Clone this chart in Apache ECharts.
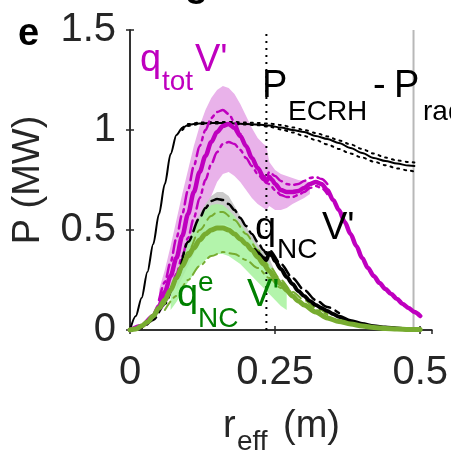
<!DOCTYPE html>
<html>
<head>
<meta charset="utf-8">
<script src="https://cdn.jsdelivr.net/npm/echarts@6/dist/echarts.min.js"></script>
<style>
html,body{margin:0;padding:0;background:#fff;}
#chart{width:451px;height:454px;}
</style>
</head>
<body>
<div id="chart"></div>
<script>
// ---------------- data ----------------
const xTicks = [0, 0.25, 0.5];
const yTicks = [0, 0.5, 1, 1.5];

// P_ECRH - P_rad (thin black) and its dotted bounds
const ecrhR = [0,0.01,0.02,0.03,0.04,0.05,0.06,0.07,0.08,0.09,0.10,0.11,0.12,0.14,0.16,0.18,0.20,0.22,0.24,0.26,0.28,0.30,0.32,0.34,0.36,0.38,0.40,0.42,0.44,0.46,0.48,0.49];
const ecrhP = [0,0.07,0.16,0.29,0.43,0.58,0.73,0.88,0.975,1.01,1.025,1.03,1.033,1.035,1.035,1.033,1.03,1.028,1.022,1.012,1.0,0.99,0.97,0.955,0.935,0.91,0.885,0.86,0.845,0.832,0.822,0.82];
const ecrhBR = [0.09,0.10,0.12,0.14,0.16,0.18,0.20,0.22,0.24,0.26,0.28,0.30,0.32,0.34,0.36,0.38,0.40,0.42,0.44,0.46,0.48,0.49];
const ecrhHiP = [1.01,1.03,1.037,1.04,1.04,1.04,1.037,1.035,1.032,1.025,1.013,1.0,0.985,0.968,0.948,0.928,0.905,0.882,0.862,0.848,0.84,0.838];
const ecrhLoP = [1.0,1.02,1.03,1.032,1.032,1.03,1.027,1.024,1.016,1.003,0.988,0.97,0.95,0.928,0.905,0.882,0.862,0.842,0.824,0.808,0.797,0.793];

// q_tot V' (magenta)
const totR = [0,0.02,0.04,0.05,0.06,0.07,0.08,0.09,0.10,0.11,0.12,0.13,0.14,0.15,0.16,0.17,0.18,0.19,0.20,0.21,0.22,0.23,0.235,0.24,0.245,0.25,0.26,0.27,0.28,0.29,0.30,0.31,0.32,0.33,0.34,0.35,0.36,0.37,0.38,0.39,0.40,0.41,0.42,0.43,0.44,0.45,0.46,0.47,0.48,0.49,0.50];
const totP = [0,0.02,0.07,0.12,0.19,0.27,0.36,0.47,0.58,0.69,0.79,0.87,0.94,0.99,1.02,1.03,1.01,0.97,0.92,0.86,0.81,0.765,0.745,0.765,0.75,0.73,0.70,0.69,0.69,0.695,0.71,0.73,0.74,0.73,0.70,0.65,0.60,0.54,0.48,0.42,0.36,0.31,0.27,0.235,0.205,0.18,0.155,0.13,0.11,0.09,0.07];
const totHiR = [0.05,0.06,0.07,0.08,0.09,0.10,0.11,0.12,0.13,0.14,0.15,0.16,0.17,0.18,0.19,0.20,0.21,0.22,0.23,0.235,0.24,0.25,0.26,0.27,0.28,0.29,0.30,0.31,0.32,0.33,0.34];
const totHiP = [0.15,0.24,0.34,0.46,0.58,0.70,0.82,0.92,1.0,1.06,1.09,1.10,1.08,1.04,0.98,0.92,0.86,0.81,0.77,0.76,0.79,0.77,0.745,0.73,0.725,0.73,0.745,0.76,0.765,0.755,0.73];
const totLoR = [0.06,0.07,0.08,0.09,0.10,0.11,0.12,0.13,0.14,0.15,0.16,0.17,0.18,0.19,0.20,0.21,0.22,0.23,0.235,0.24,0.25,0.26,0.27,0.28,0.29,0.30,0.31,0.32,0.33,0.34];
const totLoP = [0.14,0.20,0.28,0.37,0.46,0.56,0.66,0.75,0.83,0.89,0.93,0.94,0.93,0.90,0.86,0.82,0.78,0.75,0.735,0.73,0.70,0.675,0.665,0.665,0.675,0.69,0.71,0.72,0.71,0.68];
const totBandR  = [0.05,0.06,0.07,0.08,0.09,0.10,0.11,0.12,0.13,0.14,0.15,0.16,0.17,0.18,0.19,0.20,0.21,0.22,0.23,0.235,0.24,0.25,0.26,0.27,0.28,0.29,0.30,0.31];
const totBandLo = [0.08,0.12,0.17,0.23,0.30,0.37,0.44,0.51,0.58,0.67,0.74,0.78,0.79,0.77,0.74,0.70,0.66,0.63,0.61,0.60,0.62,0.60,0.60,0.61,0.63,0.645,0.66,0.68];
const totBandHi = [0.20,0.30,0.42,0.55,0.68,0.80,0.92,1.02,1.10,1.16,1.20,1.22,1.21,1.18,1.13,1.07,1.01,0.96,0.93,0.92,0.84,0.80,0.78,0.77,0.76,0.75,0.745,0.74];

// q_NC V' (black) with grey band
const ncBandR  = [0.08,0.09,0.10,0.11,0.12,0.13,0.14,0.15,0.16,0.17,0.18,0.19,0.20,0.21,0.22,0.23,0.235,0.24,0.25,0.26];
const ncBandLo = [0.20,0.26,0.32,0.38,0.43,0.47,0.50,0.52,0.53,0.52,0.50,0.47,0.43,0.39,0.35,0.32,0.31,0.28,0.24,0.20];
const ncBandHi = [0.28,0.36,0.44,0.52,0.58,0.63,0.67,0.69,0.69,0.67,0.62,0.57,0.52,0.47,0.43,0.40,0.39,0.36,0.29,0.23];
const ncDashR = [0,0.02,0.04,0.06,0.08,0.10,0.12,0.13,0.14,0.15,0.16,0.17,0.18,0.19,0.20,0.21,0.22,0.23,0.235,0.24,0.26,0.28,0.30,0.32,0.34,0.36];
const ncDashP = [0,0.01,0.05,0.13,0.26,0.44,0.56,0.61,0.645,0.655,0.65,0.63,0.60,0.56,0.52,0.48,0.44,0.40,0.38,0.40,0.33,0.26,0.20,0.15,0.115,0.085];
const ncR = [0.215,0.22,0.23,0.235,0.24,0.245,0.25,0.26,0.27,0.28,0.29,0.30,0.31,0.32,0.33,0.34,0.35,0.36,0.38,0.40,0.42,0.44,0.46,0.48,0.50];
const ncP = [0.40,0.385,0.36,0.35,0.385,0.37,0.345,0.305,0.265,0.23,0.195,0.17,0.145,0.125,0.11,0.095,0.08,0.066,0.045,0.03,0.019,0.012,0.007,0.004,0.003];

// q^e_NC V' (olive) with light-green band
const eBandR  = [0.07,0.08,0.09,0.10,0.11,0.12,0.13,0.14,0.15,0.16,0.17,0.18,0.19,0.20,0.21,0.22,0.23,0.24,0.25,0.26,0.27];
const eBandLo = [0.10,0.14,0.19,0.24,0.28,0.32,0.35,0.37,0.38,0.38,0.37,0.35,0.33,0.30,0.27,0.24,0.21,0.18,0.15,0.12,0.10];
const eBandHi = [0.20,0.27,0.35,0.43,0.50,0.56,0.60,0.625,0.63,0.625,0.60,0.57,0.53,0.49,0.45,0.41,0.37,0.33,0.28,0.24,0.20];
const eR = [0,0.01,0.02,0.03,0.04,0.05,0.06,0.07,0.08,0.09,0.10,0.11,0.12,0.13,0.14,0.15,0.16,0.17,0.18,0.19,0.20,0.21,0.22,0.23,0.24,0.25,0.26,0.27,0.28,0.29,0.30,0.32,0.34,0.36,0.38,0.40,0.42,0.44,0.46,0.48,0.50];
const eP = [0,0.005,0.02,0.04,0.07,0.11,0.15,0.20,0.26,0.32,0.37,0.41,0.45,0.48,0.50,0.51,0.51,0.50,0.48,0.455,0.43,0.40,0.365,0.33,0.295,0.26,0.23,0.20,0.17,0.145,0.125,0.09,0.06,0.043,0.03,0.02,0.013,0.008,0.005,0.003,0.002];
const eHiR = [0.06,0.08,0.10,0.12,0.14,0.15,0.16,0.18,0.20,0.22,0.24,0.26,0.28,0.30,0.32,0.34];
const eHiP = [0.13,0.25,0.39,0.50,0.57,0.59,0.59,0.55,0.48,0.40,0.32,0.25,0.19,0.15,0.11,0.08];
const eLoR = [0.06,0.08,0.10,0.12,0.14,0.16,0.18,0.20,0.22,0.24,0.26,0.28,0.30,0.32,0.34];
const eLoP = [0.10,0.17,0.25,0.32,0.37,0.39,0.38,0.35,0.31,0.26,0.21,0.17,0.13,0.10,0.075];

// vertical reference lines
const dottedMarkR = 0.235;
const greyMarkR = 0.4885;
const yRange = [0, 1.5];

// ---------------- chart ----------------
const zip = (xs, ys) => xs.map((x, i) => [x, ys[i]]);

const FONT = "'Liberation Sans', Arial, Helvetica, sans-serif";
const MAGENTA = '#bf00bf';
const OLIVE = '#77ac30';
const GREEN_TXT = '#008000';
const AX = '#262626';

function line(name, xs, ys, color, width, type, z) {
  return {
    name, type: 'line', data: zip(xs, ys), symbol: 'none', smooth: 0.3, smoothMonotone: 'x',
    lineStyle: { color, width, type: type || 'solid', cap: 'round' }, z: z || 3, silent: true
  };
}
// uncertainty band drawn as one polygon through the axes' coordinate system
function band(id, xs, lo, hi, color, opacity) {
  return {
    name: id, type: 'custom', silent: true, z: 1,
    data: xs.map((x, i) => [x, lo[i], hi[i]]),
    encode: { x: 0, y: [1, 2] },
    renderItem: function (params, api) {
      if (params.dataIndex !== 0) return null;
      const top = xs.map((x, i) => api.coord([x, hi[i]]));
      const bot = xs.map((x, i) => api.coord([x, lo[i]])).reverse();
      return {
        type: 'polygon',
        shape: { points: top.concat(bot) },
        style: { fill: color, opacity: opacity, stroke: null }
      };
    }
  };
}

const chart = echarts.init(document.getElementById('chart'), null, { renderer: 'canvas' });

function txt(text, x, baseline, size, color, weight) {
  return {
    type: 'text', x: x, y: baseline - 0.35 * size + 2, z: 100, silent: true,
    style: {
      text, fill: color, font: (weight || 'normal') + ' ' + size + 'px ' + FONT,
      textAlign: 'left', textVerticalAlign: 'middle', align: 'left', verticalAlign: 'middle'
    }
  };
}

const graphics = [
  txt('g', 185, -3, 38, '#000', 'bold'),
  txt('e', 18, 46, 38, '#000', 'bold'),
  // q_tot V'
  txt('q', 140, 72, 38, MAGENTA), txt('tot', 162, 90, 28, MAGENTA), txt("V'", 195, 72, 38, MAGENTA),
  // P_ECRH - P_rad
  txt('P', 262, 98, 38, '#000'), txt('ECRH', 288, 120, 28, '#000'), txt('-', 373, 98, 38, '#000'),
  txt('P', 394, 98, 38, '#000'), txt('rad', 423, 120, 28, '#000'),
  // q_NC V'
  txt('q', 255, 240, 38, '#000'), txt('NC', 277, 258, 28, '#000'), txt("V'", 322, 240, 38, '#000'),
  // q^e_NC V'
  txt('q', 177, 307, 38, GREEN_TXT), txt('e', 198, 291, 28, GREEN_TXT), txt('NC', 198, 327, 28, GREEN_TXT),
  txt("V'", 247, 307, 38, GREEN_TXT),
  // axis names
  txt('r', 223, 438, 38, AX), txt('eff', 237, 450, 28, AX), txt('(m)', 283, 438, 38, AX),
  {
    type: 'text', x: 29, y: 180, rotation: Math.PI / 2, z: 100, silent: true,
    style: { text: 'P (MW)', fill: AX, font: '38px ' + FONT,
      textAlign: 'center', textVerticalAlign: 'middle', align: 'center', verticalAlign: 'middle' }
  }
];

const axisCommon = {
  min: 0, axisLine: { show: true, lineStyle: { color: AX, width: 1.5 } },
  axisTick: { show: true, inside: true, length: 4, lineStyle: { color: AX, width: 1.5 } },
  splitLine: { show: false }
};

const option = {
  animation: false,
  backgroundColor: '#ffffff',
  grid: { left: 130, right: 19, top: 30, bottom: 124, containLabel: false },
  xAxis: [
    Object.assign({}, axisCommon, { type: 'value', position: 'bottom', max: 0.52, interval: 0.25,
      axisLabel: { fontFamily: FONT, fontSize: 40, color: AX, margin: 23, showMaxLabel: false } }),
    Object.assign({}, axisCommon, { type: 'value', position: 'top', max: 0.52, interval: 0.25,
      axisLabel: { show: false } })
  ],
  yAxis: [
    Object.assign({}, axisCommon, { type: 'value', position: 'left', min: yRange[0], max: yRange[1], interval: 0.5,
      axisLabel: { fontFamily: FONT, fontSize: 40, color: AX, margin: 14, padding: [6, 0, 0, 0] } }),
    Object.assign({}, axisCommon, { type: 'value', position: 'right', min: yRange[0], max: yRange[1], interval: 0.5,
      axisLabel: { show: false } })
  ],
  graphic: graphics,
  series: [
    band('totBand', totBandR, totBandLo, totBandHi, '#e9b2ea', 1),
    band('ncBand', ncBandR, ncBandLo, ncBandHi, '#c8c8c8', 0.95),
    band('eBand', eBandR, eBandLo, eBandHi, '#a6f29c', 0.85),
    { type: 'line', data: [[dottedMarkR, yRange[0]], [dottedMarkR, yRange[1]]], symbol: 'none',
      lineStyle: { color: '#000', width: 2, type: [2, 5] }, z: 2, silent: true },
    { type: 'line', data: [[greyMarkR, yRange[0]], [greyMarkR, yRange[1]]], symbol: 'none',
      lineStyle: { color: '#b8b8b8', width: 2 }, z: 2, silent: true },
    line('ecrhHi', ecrhBR, ecrhHiP, '#000', 2, [2, 5], 3),
    line('ecrhLo', ecrhBR, ecrhLoP, '#000', 2, [2, 5], 3),
    line('ecrh', ecrhR, ecrhP, '#000', 2, 'solid', 4),
    line('totHi', totHiR, totHiP, MAGENTA, 2.5, [12, 5, 3, 5], 5),
    line('totLo', totLoR, totLoP, MAGENTA, 2.5, [12, 5, 3, 5], 5),
    line('tot', totR, totP, MAGENTA, 4.5, 'solid', 6),
    line('ncDash', ncDashR, ncDashP, '#000', 2.5, [12, 6], 5),
    line('nc', ncR, ncP, '#000', 4, 'solid', 6),
    line('eHi', eHiR, eHiP, OLIVE, 2, [10, 6], 5),
    line('eLo', eLoR, eLoP, OLIVE, 2, [10, 5, 3, 5], 5),
    line('e', eR, eP, OLIVE, 5, 'solid', 7)
  ]
};
chart.setOption(option);
</script>
</body>
</html>
